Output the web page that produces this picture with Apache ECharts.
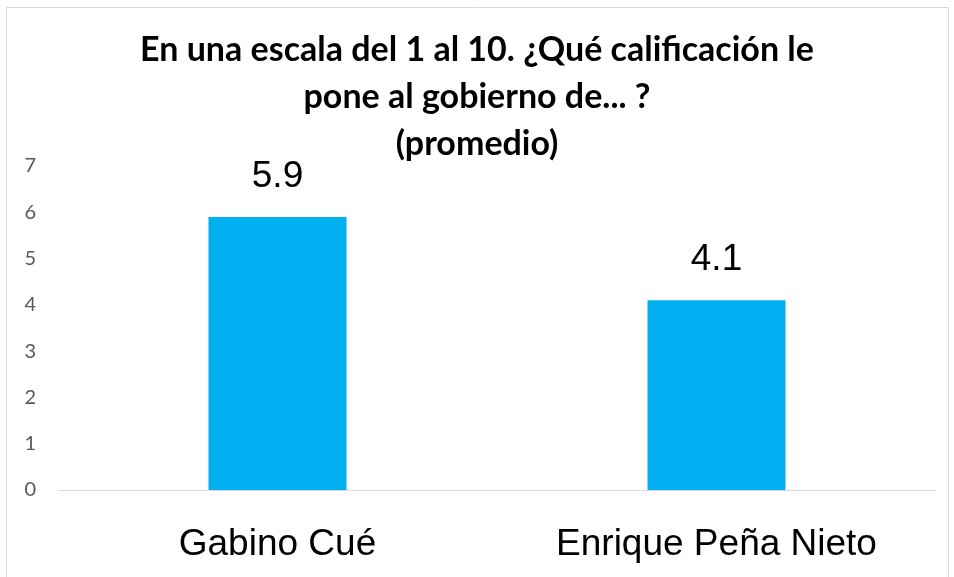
<!DOCTYPE html>
<html><head><meta charset="utf-8">
<script src="https://cdn.jsdelivr.net/npm/echarts@6/dist/echarts.min.js"></script>
<style>html,body{margin:0;padding:0;background:#fff}#c{width:954px;height:577px}</style>
</head><body><div id="c"></div>
<script>
const categories = ['Gabino Cué', 'Enrique Peña Nieto'];
const values = [5.9, 4.1];
const titleText = 'En una escala del 1 al 10. ¿Qué calificación le\npone al gobierno de... ?\n(promedio)';

const chart = echarts.init(document.getElementById('c'));
chart.setOption({
  animation: false,
  backgroundColor: '#fff',
  graphic: [{
    type: 'rect', shape: {x: 6.5, y: 7.5, width: 942, height: 580},
    style: {fill: 'none', stroke: '#d9d9d9', lineWidth: 1}, z: -1
  }],
  title: {
    text: titleText, left: 'center', top: 22,
    textStyle: {fontFamily: 'Lato', fontWeight: 'bold', fontSize: 34, lineHeight: 47, color: '#000'}
  },
  grid: {left: 58, right: 18, top: 166, bottom: 87},
  xAxis: {
    type: 'category', data: categories,
    axisLine: {lineStyle: {color: '#d9d9d9', width: 1}},
    axisTick: {show: false},
    axisLabel: {fontFamily: 'Liberation Sans', fontSize: 37, color: '#000', margin: 36}
  },
  yAxis: {
    type: 'value', min: 0, max: 7, interval: 1,
    axisLine: {show: false}, axisTick: {show: false},
    splitLine: {show: false},
    axisLabel: {fontFamily: 'Lato', fontSize: 20, color: '#595959', margin: 22, align: 'right'}
  },
  series: [{
    type: 'bar', data: values, barWidth: 138,
    itemStyle: {color: '#00B0F0'},
    label: {show: true, position: 'top', distance: 22, fontFamily: 'Liberation Sans', fontSize: 37, color: '#000',
      formatter: p => p.value.toFixed(1)}
  }]
});
</script></body></html>
